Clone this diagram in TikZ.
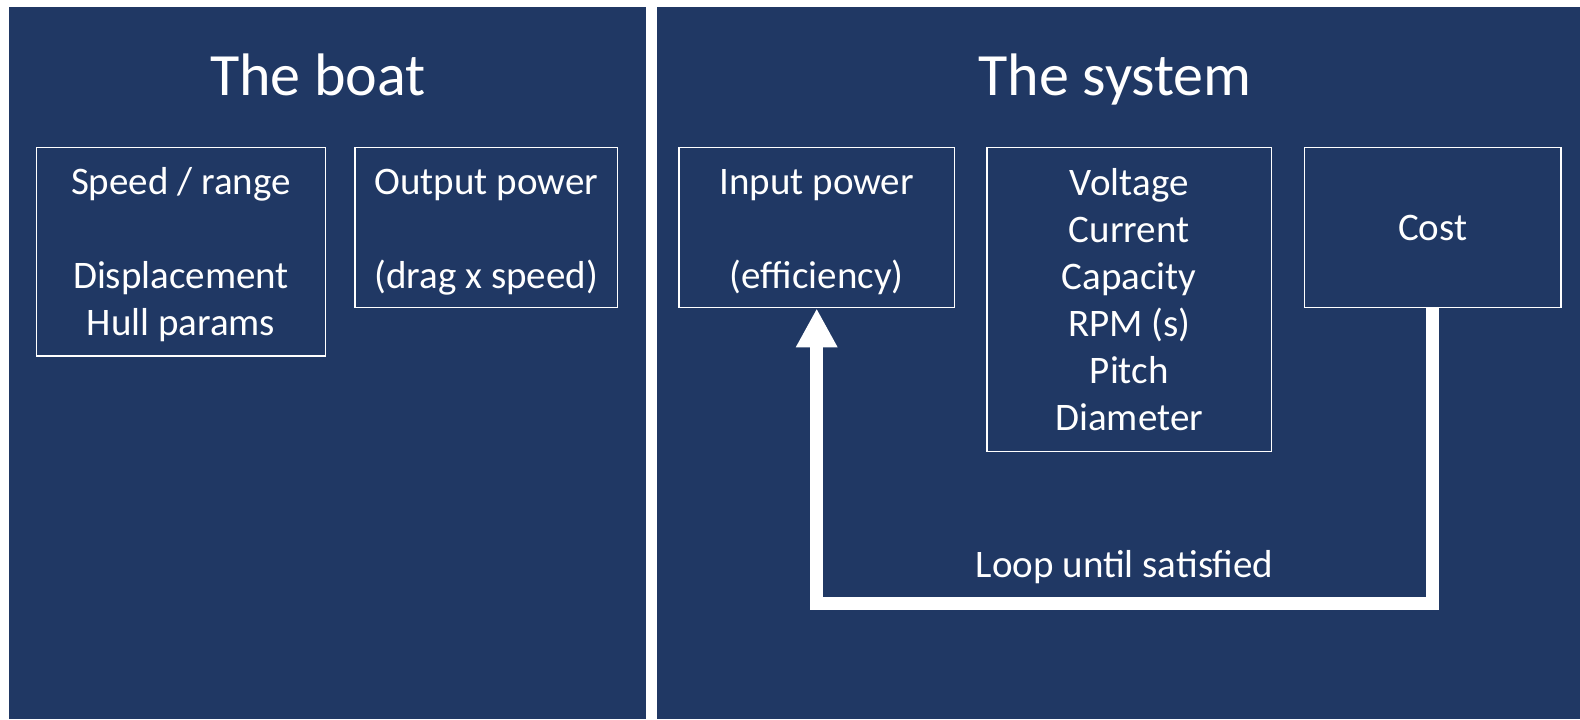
\documentclass[tikz,border=0pt]{standalone}
\usepackage{fontspec}
\setmainfont{Carlito}
\usetikzlibrary{arrows.meta,positioning}
\definecolor{navy}{HTML}{203864}

\begin{document}
\begin{tikzpicture}[
  x=0.5pt, y=-0.5pt,
  font=\fontsize{19.5pt}{23.5pt}\selectfont,
  >={Triangle[length=19.5pt, width=19.5pt]},
  panel/.style={fill=navy},
  paneltitle/.style={anchor=base, text=white, font=\fontsize{30pt}{36pt}\selectfont},
  pbox/.style={rectangle, draw=white, line width=0.75pt, text=white, align=center, inner sep=0pt},
  loopline/.style={->, draw=white, line width=6.5pt, line join=miter},
  ml/.style={text=white, inner sep=6.5pt},
]

\def\ty{95}  \def\ry{227.6}  \def\gap{23.5pt}
\def\tp{\rule{0pt}{17.5pt}}

\useasboundingbox[fill=white] (0,0) rectangle (1580,719);

% panels
\fill[panel] (9,7) rectangle (646,719);
\fill[panel] (657,7) rectangle (1580,719);

\node[paneltitle] (tboat) at (318,\ty) {The boat};
\node[paneltitle] (tsys) at (1115,\ty) {The system};

% the boat
\node[pbox, minimum width=144.5pt, minimum height=104.25pt] (speed) at (181,251.8)
  {\rule{0pt}{16.5pt}Speed / range\\[\gap]Displacement\\Hull params};
\node[pbox, minimum width=131.25pt, minimum height=80.1pt] (outp) at (486.3,\ry)
  {\tp Output power\\[\gap](drag x speed)};

% the system
\node[pbox, minimum width=137.9pt, minimum height=80.1pt] (inp) at (816.7,\ry)
  {\tp Input power\\[\gap](efficiency)};
\node[pbox, minimum width=142.25pt, minimum height=152.1pt] (volt) at (1129.2,299.6)
  {Voltage\\Current\\Capacity\\RPM (s)\\Pitch\\Diameter};
\node[pbox, minimum width=128.3pt, minimum height=80.1pt] (cost) at (1432.7,\ry) {Cost};

% loop back
\draw[loopline] (cost.south) -- ++(0,295) coordinate (lc)
  -| node[pos=0.25, ml, above]{Loop until satisfied} (inp.south);

\end{tikzpicture}
\end{document}
